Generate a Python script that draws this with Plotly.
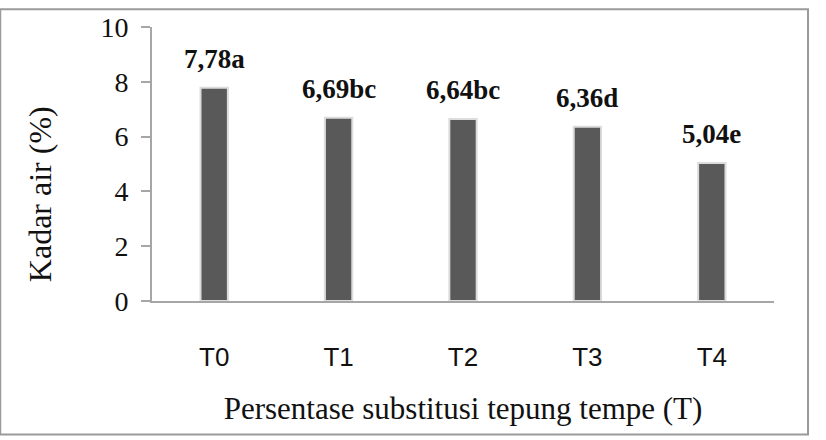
import plotly.graph_objects as go

categories = ["T0", "T1", "T2", "T3", "T4"]
values = [7.78, 6.69, 6.64, 6.36, 5.04]
letters = ["a", "bc", "bc", "d", "e"]
y_ticks = [0, 2, 4, 6, 8, 10]

labels = [f"{v:.2f}".replace(".", ",") + l for v, l in zip(values, letters)]

serif = "Liberation Serif, Times New Roman, serif"

fig = go.Figure()
fig.add_trace(go.Bar(
    x=categories, y=values, width=0.22,
    marker=dict(color="#595959", line=dict(color="#dcdcdc", width=2)),
    hoverinfo="skip",
))

for c, v, t in zip(categories, values, labels):
    fig.add_annotation(x=c, y=v, text=f"<b>{t}</b>", showarrow=False,
                       yanchor="bottom", yshift=12,
                       font=dict(family=serif, size=27, color="#111"))

fig.add_annotation(xref="paper", yref="paper", x=-0.18, y=0.39,
                   text="Kadar air (%)", textangle=-90, showarrow=False,
                   xanchor="center", yanchor="middle",
                   font=dict(family=serif, size=32, color="#111"))

fig.update_layout(
    width=826, height=440,
    margin=dict(l=152, r=52, t=22, b=139),
    paper_bgcolor="white", plot_bgcolor="white",
    showlegend=False,
    xaxis=dict(
        showline=True, linecolor="#a6a6a6", linewidth=2,
        ticks="", tickfont=dict(family="Liberation Sans Narrow, Liberation Sans, sans-serif", size=26, color="#111"),
        ticklabelstandoff=32,
        title=dict(text="Persentase substitusi tepung tempe (T)",
                   font=dict(family=serif, size=31, color="#111"), standoff=26),
    ),
    yaxis=dict(
        range=[0, 10], tickvals=y_ticks,
        showline=True, linecolor="#a6a6a6", linewidth=2,
        ticks="outside", ticklen=9, tickcolor="#a6a6a6", tickwidth=2,
        showgrid=False, zeroline=False,
        tickfont=dict(family=serif, size=28, color="#111"),
        ticklabelstandoff=7,
    ),
)

fig.add_shape(type="rect", xref="paper", yref="paper",
              x0=-0.244, x1=1.0547, y0=-0.4875, y1=1.0645,
              line=dict(color="#9a9a9a", width=2), fillcolor="rgba(0,0,0,0)")

fig.write_html("out.html")
